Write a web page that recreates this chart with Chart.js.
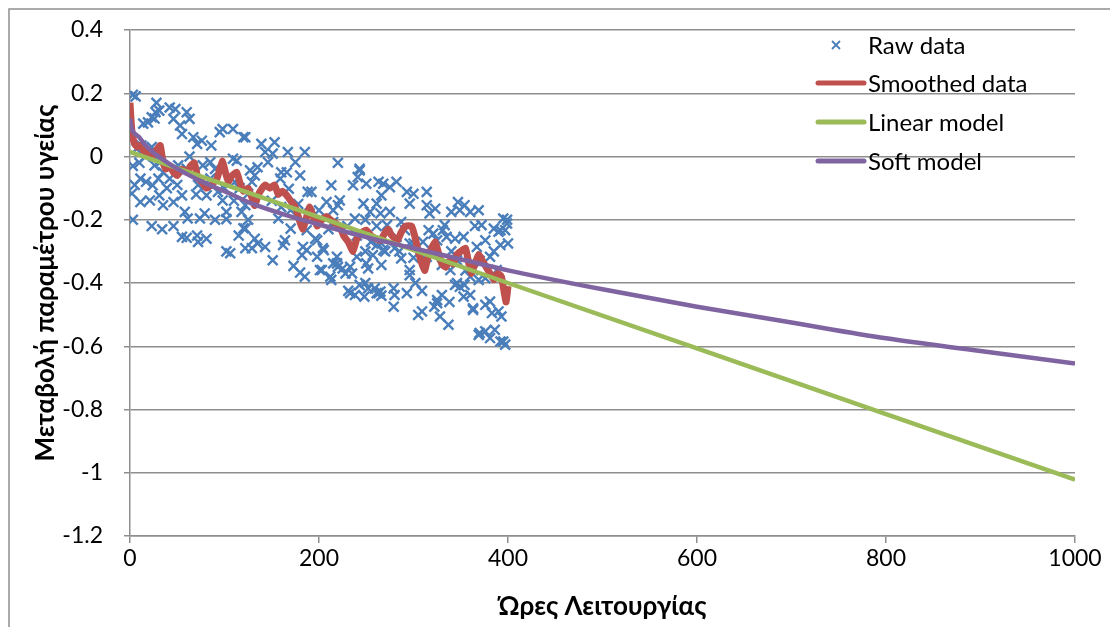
<!DOCTYPE html>
<html>
<head>
<meta charset="utf-8">
<script src="https://cdn.jsdelivr.net/npm/chart.js@4.4.0/dist/chart.umd.min.js"></script>
<style>
  html, body { margin: 0; padding: 0; background: #fff; }
</style>
</head>
<body>
<canvas id="chart" width="1110" height="627"></canvas>
<script>
// Raw data (scatter) - hours, health parameter change
const rawX = [
  3, 7, 3, 5, 2, 11, 11, 16, 12, 17, 21, 19, 23, 27, 28, 26, 31, 14, 23, 26, 24, 31, 32, 35,
  42, 48, 46, 53, 60, 63, 55, 67, 71, 76, 86, 95, 98, 109, 120, 63, 60, 51, 42, 39, 35, 46,
  55, 58, 72, 77, 85, 90, 81, 93, 98, 109, 113, 111, 116, 118, 102, 79, 6,
  3, 23, 34, 46, 55, 60, 61, 74, 71, 72, 81, 90, 102, 102, 106, 115, 120, 122,
  122, 139, 153, 143, 151, 167, 185, 146, 175, 220, 243, 241, 127, 135, 132, 160, 166, 180,
  159, 213, 236, 250, 129, 188, 192, 208, 222, 247, 254, 261, 125, 122, 168, 215, 220,
  122, 132, 135, 143, 129, 151, 164, 162, 170, 173, 180, 185, 183, 182, 196, 198, 204, 203,
  212, 213, 219, 220, 225, 228, 235, 219, 231, 238, 243, 248, 252, 261, 252, 257, 238, 249,
  261, 249, 157, 215,
  263, 268, 266, 275, 282, 293, 300, 296, 314, 314, 323, 317, 347, 354, 340, 349, 369, 360,
  395, 399, 265, 275, 261, 272, 287, 291, 316, 321, 333, 335, 344, 353, 365, 372, 367, 376,
  385, 390, 397, 400, 381, 266, 280, 287, 266, 312, 330, 346, 300,
  263, 279, 280, 279, 293, 296, 302, 309, 305, 309, 325, 322, 330, 328, 337, 338, 344, 349,
  354, 360, 363, 369, 376, 381, 386, 390, 393, 376, 381, 383, 392, 397, 376, 369, 259, 265,
  243, 187, 198, 205, 215, 233, 249, 266, 250, 268, 282, 296, 325, 339, 346, 363, 370, 395,
  399, 392, 388, 363, 314, 325, 331, 187, 201, 233, 240, 296, 346, 353, 360,
  150, 160, 170, 178, 190, 200, 210, 230, 240, 255, 270, 285, 300, 310, 320, 340, 355, 370,
  385, 392, 10, 30, 50, 70, 85, 100, 110, 125
];
const rawY = [
  0.195, 0.024, -0.03, -0.09, -0.117, -0.07, -0.144, 0.0, 0.035, -0.08, -0.139, 0.108, 0.124, 0.14, 0.17, 0.12, 0.145, 0.104, 0.03, -0.028, -0.091, -0.123, -0.018, -0.05,
  0.155, 0.15, 0.119, 0.098, 0.14, 0.119, 0.071, 0.061, 0.04, 0.05, 0.035, 0.077, 0.087, 0.087, 0.061, 0.0, -0.039, -0.028, -0.07, -0.1, -0.154, -0.144,
  -0.123, -0.175, -0.09, -0.028, -0.018, -0.039, -0.123, -0.112, -0.139, -0.007, -0.013, -0.08, -0.1, -0.175, -0.175, -0.18, 0.19,
  -0.2, -0.22, -0.23, -0.22, -0.254, -0.257, -0.196, -0.196, -0.25, -0.27, -0.26, -0.2, -0.198, -0.3, -0.306, -0.25, -0.227, -0.29,
  0.061, 0.04, 0.045, 0.014, 0.009, 0.014, 0.014, -0.018, -0.018, -0.02, -0.039, -0.065, -0.044, -0.034, -0.06, -0.05, -0.05, -0.06,
  -0.07, -0.091, -0.091, -0.086, -0.08, -0.112, -0.112, -0.144, -0.139, -0.149, -0.175, -0.149, -0.118, -0.154, -0.102, -0.17, -0.154,
  -0.228, -0.26, -0.275, -0.286, -0.29, -0.328, -0.265, -0.28, -0.228, -0.346, -0.367, -0.38, -0.286, -0.312, -0.26, -0.317, -0.29, -0.359,
  -0.38, -0.39, -0.338, -0.349, -0.354, -0.37, -0.37, -0.317, -0.425, -0.438, -0.406, -0.443, -0.417, -0.432, -0.354, -0.312, -0.196, -0.2,
  -0.28, -0.3, -0.196, -0.207,
  -0.08, -0.086, -0.123, -0.097, -0.08, -0.112, -0.118, -0.149, -0.112, -0.154, -0.165, -0.18, -0.144, -0.154, -0.175, -0.17, -0.17, -0.175,
  -0.196, -0.2, -0.18, -0.175, -0.22, -0.217, -0.207, -0.233, -0.233, -0.244, -0.217, -0.254, -0.26, -0.254, -0.22, -0.217, -0.286, -0.265,
  -0.228, -0.238, -0.233, -0.275, -0.317, -0.275, -0.29, -0.322, -0.343, -0.322, -0.343, -0.328, -0.275,
  -0.432, -0.417, -0.438, -0.475, -0.432, -0.375, -0.4, -0.425, -0.501, -0.49, -0.454, -0.475, -0.438, -0.506, -0.532, -0.46, -0.406, -0.412,
  -0.406, -0.438, -0.48, -0.564, -0.553, -0.574, -0.548, -0.49, -0.506, -0.469, -0.459, -0.495, -0.585, -0.595, -0.385, -0.39, -0.417, -0.427,
  -0.044, -0.233, -0.265, -0.296, -0.338, -0.432, -0.4, -0.44, -0.338, -0.296, -0.254, -0.359, -0.464, -0.359, -0.4, -0.485, -0.558, -0.585,
  -0.212, -0.233, -0.359, -0.359, -0.317, -0.265, -0.233, -0.296, -0.359, -0.349, -0.317, -0.275, -0.317, -0.443, -0.38,
  -0.14, -0.16, -0.17, -0.15, -0.18, -0.17, -0.23, -0.22, -0.25, -0.27, -0.3, -0.3, -0.32, -0.27, -0.3, -0.3, -0.36, -0.33,
  -0.3, -0.28, -0.02, -0.07, -0.09, -0.12, -0.07, -0.1, -0.14, -0.2
];

// Smoothed data
const smoothX = [0, 1, 2, 3, 5, 8, 11, 14, 17, 20, 24, 28, 32, 35, 38, 42, 46, 50, 55, 60, 64, 68, 72, 76, 81, 86,
  92, 95, 98, 101, 104, 108, 113, 116, 120, 125, 129, 132, 136, 140, 143, 148, 153, 157, 161, 165, 170, 175,
  179, 183, 187, 190, 194, 198, 203, 208, 212, 217, 222, 226, 231, 236, 240, 245, 250, 255, 260, 265, 270,
  273, 277, 283, 287, 292, 298, 302, 305, 309, 312, 315, 319, 323, 326, 330, 334, 338, 342, 346, 350, 355,
  358, 361, 365, 369, 373, 377, 381, 385, 389, 393, 396, 398, 400];
const smoothY = [0.17, 0.12, 0.08, 0.06, 0.04, 0.03, 0.035, 0.02, 0.01, 0.015, 0.0, 0.02, 0.035, -0.02, -0.04, -0.03, -0.05, -0.06, -0.04, -0.05, -0.03, -0.02, -0.07, -0.08, -0.1, -0.09,
  -0.07, -0.04, -0.015, -0.05, -0.08, -0.06, -0.05, -0.08, -0.11, -0.1, -0.13, -0.155, -0.12, -0.1, -0.09, -0.1, -0.09, -0.12, -0.11, -0.12, -0.14, -0.16,
  -0.2, -0.23, -0.19, -0.16, -0.19, -0.22, -0.2, -0.19, -0.2, -0.21, -0.22, -0.25, -0.27, -0.3, -0.26, -0.24, -0.233, -0.25, -0.26, -0.265, -0.24,
  -0.23, -0.25, -0.265, -0.24, -0.22, -0.22, -0.26, -0.3, -0.34, -0.36, -0.32, -0.29, -0.27, -0.3, -0.34, -0.35, -0.33, -0.34, -0.31, -0.3, -0.29,
  -0.33, -0.37, -0.34, -0.31, -0.33, -0.35, -0.37, -0.39, -0.37, -0.38, -0.43, -0.46, -0.41];

// Linear model
const linearX = [0, 200, 400, 600, 800, 1000];
const linearY = [0.015, -0.192, -0.4, -0.607, -0.815, -1.022];

// Soft model
const softX = [0, 1, 3, 6, 10, 15, 24, 40, 60, 80, 100, 130, 166, 200, 250, 300, 350, 400, 500, 600, 700, 800, 900, 1000];
const softY = [0.12, 0.1, 0.08, 0.07, 0.06, 0.04, 0.014, -0.02, -0.055, -0.085, -0.11, -0.15, -0.186, -0.215, -0.255, -0.29, -0.325, -0.36, -0.42, -0.475, -0.525, -0.575, -0.615, -0.655];

const seriesNames = ['Raw data', 'Smoothed data', 'Linear model', 'Soft model'];
const xTicks = [0, 200, 400, 600, 800, 1000];
const yTicks = [0.4, 0.2, 0, -0.2, -0.4, -0.6, -0.8, -1, -1.2];

const COLORS = {
  raw: '#4a7ebb',
  smooth: '#c0504d',
  linear: '#9bbb59',
  soft: '#8064a2',
  grid: '#8e8e8e'
};
const FONT = 'Lato, "Noto Sans", sans-serif';

function toPoints(xs, ys) {
  return xs.map((x, i) => ({ x: x, y: ys[i] }));
}

// fond blanc + cadre extérieur
const frame = {
  id: 'frame',
  beforeDraw(chart) {
    const ctx = chart.ctx;
    ctx.save();
    ctx.fillStyle = '#fff';
    ctx.fillRect(0, 0, chart.width, chart.height);
    ctx.strokeStyle = '#8e8e8e';
    ctx.lineWidth = 1.5;
    ctx.beginPath();
    ctx.moveTo(9, chart.height);
    ctx.lineTo(9, 9);
    ctx.lineTo(chart.width, 9);
    ctx.stroke();
    ctx.restore();
  }
};

// légende dans la zone du graphique, sans fond
const insideLegend = {
  id: 'insideLegend',
  afterDraw(chart) {
    const ctx = chart.ctx;
    const rows = [45, 83, 122, 161];
    const styles = [null, COLORS.smooth, COLORS.linear, COLORS.soft];
    ctx.save();
    ctx.font = '24px ' + FONT;
    ctx.textBaseline = 'middle';
    ctx.fillStyle = '#000';
    rows.forEach((y, i) => {
      if (i === 0) {
        ctx.strokeStyle = COLORS.raw;
        ctx.lineWidth = 1.8;
        ctx.beginPath();
        ctx.moveTo(832, 41); ctx.lineTo(840, 49);
        ctx.moveTo(840, 41); ctx.lineTo(832, 49);
        ctx.stroke();
      } else {
        ctx.strokeStyle = styles[i];
        ctx.lineWidth = 5;
        ctx.lineCap = 'round';
        ctx.beginPath();
        ctx.moveTo(818, y);
        ctx.lineTo(864, y);
        ctx.stroke();
      }
      ctx.fillText(seriesNames[i], 868, y + 1);
    });
    ctx.restore();
  }
};

const ctx = document.getElementById('chart').getContext('2d');
new Chart(ctx, {
  type: 'scatter',
  data: {
    datasets: [
      {
        label: seriesNames[0],
        data: toPoints(rawX, rawY),
        pointStyle: 'crossRot',
        pointRadius: 7,
        borderColor: COLORS.raw,
        backgroundColor: COLORS.raw,
        pointBorderWidth: 2.4,
        showLine: false,
        order: 4
      },
      {
        label: seriesNames[1],
        data: toPoints(smoothX, smoothY),
        showLine: true,
        borderColor: COLORS.smooth,
        borderWidth: 7,
        pointRadius: 0,
        tension: 0.15,
        order: 3
      },
      {
        label: seriesNames[2],
        data: toPoints(linearX, linearY),
        showLine: true,
        borderColor: COLORS.linear,
        borderWidth: 4.5,
        pointRadius: 0,
        order: 2
      },
      {
        label: seriesNames[3],
        data: toPoints(softX, softY),
        showLine: true,
        borderColor: COLORS.soft,
        borderWidth: 4.5,
        pointRadius: 0,
        cubicInterpolationMode: 'monotone',
        order: 1
      }
    ]
  },
  options: {
    responsive: false,
    animation: false,
    layout: { padding: { left: 30, top: 30, right: 35, bottom: 5 } },
    plugins: {
      legend: { display: false },
      tooltip: { enabled: false }
    },
    scales: {
      x: {
        type: 'linear',
        min: 0,
        max: 1000,
        afterBuildTicks: (scale) => { scale.ticks = xTicks.map(v => ({ value: v })); },
        afterFit: (scale) => { scale.height = 86; },
        ticks: {
          color: '#000',
          font: { family: FONT, size: 23 },
          padding: 2,
          maxRotation: 0,
          callback: (v) => String(v)
        },
        grid: {
          drawOnChartArea: false,
          drawTicks: true,
          tickLength: 7,
          color: COLORS.grid,
          lineWidth: 1.5
        },
        border: { color: COLORS.grid, width: 1.5 },
        title: {
          display: true,
          text: 'Ώρες Λειτουργίας',
          color: '#000',
          font: { family: FONT, size: 26, weight: 'bold' },
          padding: { top: 8, bottom: 0 }
        }
      },
      y: {
        type: 'linear',
        min: -1.2,
        max: 0.4,
        afterBuildTicks: (scale) => { scale.ticks = yTicks.map(v => ({ value: v })); },
        afterFit: (scale) => {
          scale.width = 100;
          // the label padding should not push the plot top down
          scale.paddingTop = 10;
          scale.paddingBottom = 10;
        },
        ticks: {
          color: '#000',
          font: { family: FONT, size: 23 },
          padding: 21,
          callback: (v) => String(Math.round(v * 10) / 10)
        },
        grid: {
          color: COLORS.grid,
          lineWidth: 1.5,
          tickLength: 6
        },
        border: { color: COLORS.grid, width: 1.5 },
        title: {
          display: true,
          text: 'Μεταβολή παραμέτρου υγείας',
          color: '#000',
          font: { family: FONT, size: 26, weight: 'bold' },
          padding: 0
        }
      }
    }
  },
  plugins: [frame, insideLegend]
});
</script>
</body>
</html>
